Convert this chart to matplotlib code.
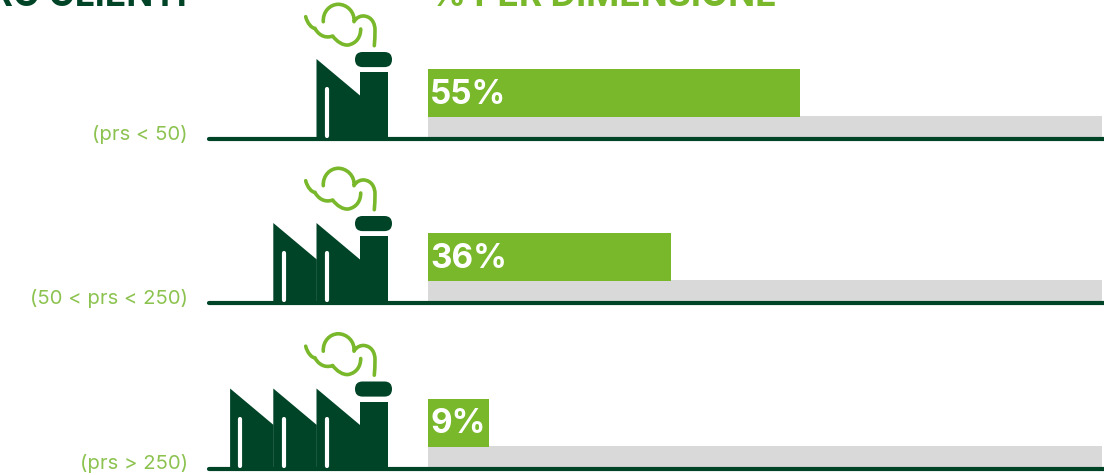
#factory rows with percentage bars
import matplotlib
matplotlib.use('Agg')
import matplotlib.pyplot as plt
from matplotlib.patches import Polygon, Rectangle, FancyBboxPatch, PathPatch
from matplotlib.path import Path

labels = ['(prs < 50)', '(50 < prs < 250)', '(prs > 250)']
values = [55, 36, 9]
sheds = [1, 2, 3]
baselines = [139, 303, 468.5]

DARK = '#004428'
GREEN = '#78b82a'
LABEL = '#8cc350'
GREY = '#d9d9d9'

plt.rcParams['font.family'] = ['Inter', 'DejaVu Sans']

BAR_X = 428
SCALE = 6.76  #pixels for one percent
TRACK_W = 674

#smoke outline, bezier points of the icon in the first row
SMOKE_A = [(305.7, 16.7), (307.3, 23.3), (311.7, 28.3), (315, 28.3),
           (317.3, 33.3), (324, 39.3), (332.7, 36),
           (336.7, 41.7), (343.3, 45.7), (348.3, 45),
           (356.7, 43.3), (360.7, 36.7), (360.7, 29)]
SMOKE_B = [(323.3, 21.7), (322.7, 11.7), (330, 4.3), (338.3, 4.3),
           (346.7, 4.3), (355, 11.7), (354, 21.7),
           (356.7, 16.7), (361.7, 15.7), (364, 16),
           (371.7, 16.7), (375, 23.3), (375, 30),
           (375, 36), (374.7, 40), (374.3, 45.7)]


def drawSmoke(ax, base):
    for pts in (SMOKE_A, SMOKE_B):
        verts = [(x, y - 139 + base) for x, y in pts]
        codes = [Path.MOVETO] + [Path.CURVE4] * (len(verts) - 1)
        ax.add_patch(PathPatch(Path(verts, codes), fill=False, ec=GREEN, lw=2.6,
                               capstyle='round', joinstyle='round'))


def drawFactory(ax, base, n):
    for i in range(n):
        x = 316.5 - 43.2 * i
        ax.add_patch(Polygon([(x, base - 80), (x + 43.5, base - 43.5),
                              (x + 43.5, base), (x, base)], fc=DARK, ec='none'))
        ax.plot([x + 10.2, x + 10.2], [base - 50, base - 3], color='white', lw=3.0,
                solid_capstyle='round')
    ax.add_patch(Rectangle((360, base - 67), 28, 67, fc=DARK, ec='none'))
    ax.add_patch(FancyBboxPatch((362.5, base - 79.5), 22, 0.1, boxstyle='round,pad=7.5,rounding_size=7.5',
                                fc=DARK, ec='none'))
    drawSmoke(ax, base)


def main():
    fig = plt.figure(figsize=(11.04, 4.75), dpi=100)
    ax = fig.add_axes([0, 0, 1, 1])
    ax.set_xlim(0, 1104)
    ax.set_ylim(475, 0)
    ax.axis('off')

    for label, val, n, base in zip(labels, values, sheds, baselines):
        #grey track then green bar
        ax.barh(base - 12, TRACK_W, height=22, left=BAR_X, color=GREY)
        ax.barh(base - 46, val * SCALE, height=48, left=BAR_X, color=GREEN)
        ax.plot([208.5, 1104], [base, base], color=DARK, lw=3, solid_capstyle='round')
        drawFactory(ax, base, n)
        ax.text(430, base - 44.5, '%d%%' % val, color='white', fontsize=24, fontweight='bold',
                ha='left', va='center')
        ax.text(188, base - 5, label, color=LABEL, fontsize=14.6, fontweight='normal',
                ha='right', va='center')

    ax.text(187, 5.5, 'NUMERO CLIENTI', color=DARK, fontsize=25.5, fontweight='bold', ha='right', va='baseline')
    ax.text(430, 5.5, '% PER DIMENSIONE', color=GREEN, fontsize=25.5, fontweight='bold', ha='left', va='baseline')

    fig.savefig('out.png', dpi=100)


if __name__ == "__main__":
    main()
